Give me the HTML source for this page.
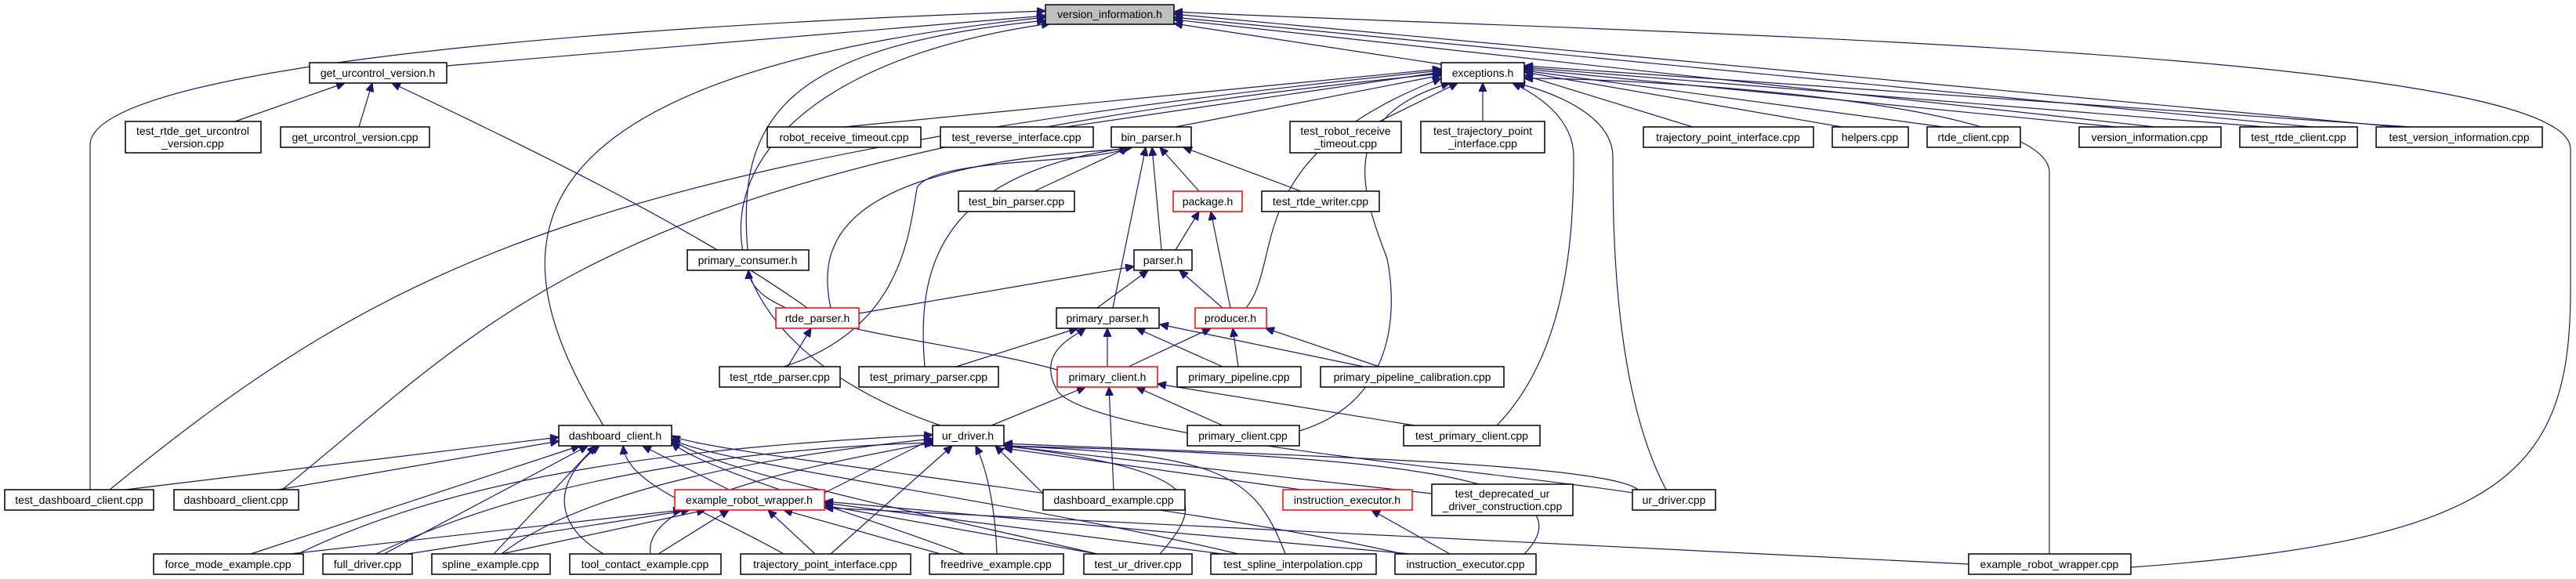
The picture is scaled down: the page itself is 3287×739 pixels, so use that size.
<!DOCTYPE html>
<html><head><meta charset="utf-8"><style>
html,body{margin:0;padding:0;background:#fff;}
svg{display:block;}
.n rect{fill:#fff;stroke:#000;stroke-width:1.5;}
.r rect{stroke:#f00;}
.g rect{fill:#bfbfbf;}
text{font-family:"Liberation Sans","DejaVu Sans",sans-serif;font-size:14px;fill:#000;text-anchor:middle;}
path{fill:none;stroke:#191970;stroke-width:1.2;}
</style></head><body>
<svg width="3287" height="739" viewBox="0 0 3287 739" xmlns="http://www.w3.org/2000/svg">
<defs><marker id="a" markerWidth="12" markerHeight="10" refX="11" refY="5" orient="auto" markerUnits="userSpaceOnUse"><path d="M0,0 L11,5 L0,10 z" style="fill:#191970;stroke:#191970"/></marker></defs>
<g marker-end="url(#a)">
<path d="M570,84 L1334,20"/>
<path d="M115,625 L115,185 C115,100 600,40 1334,14"/>
<path d="M770,543 C640,330 600,100 1334,22"/>
<path d="M954,319 C940,150 1000,60 1334,26"/>
<path d="M1200,543 C840,420 840,100 1340,30"/>
<path d="M1839,82 L1498,30"/>
<path d="M2750,162 L1498,25"/>
<path d="M2950,162 L1498,22"/>
<path d="M3060,162 L1498,18"/>
<path d="M2719,724 C3200,690 3280,600 3280,370 L3280,190 C3280,60 2000,40 1498,15"/>
<path d="M1077,162 L1839,88"/>
<path d="M1360,162 L1839,92"/>
<path d="M1500,162 L1839,96"/>
<path d="M1760,155 L1860,106"/>
<path d="M1892,155 L1892,106"/>
<path d="M2160,162 L1945,96"/>
<path d="M2350,162 L1945,92"/>
<path d="M2480,162 L1945,90"/>
<path d="M2700,162 L1945,88"/>
<path d="M2890,162 L1945,86"/>
<path d="M3075,162 L1945,84"/>
<path d="M2615,707 L2615,220 C2615,130 2100,100 1945,100"/>
<path d="M140,625 C500,330 770,200 1839,90"/>
<path d="M360,625 C640,400 770,200 1839,94"/>
<path d="M1590,393 C1640,330 1580,200 1839,100"/>
<path d="M1658,550 C1790,510 1780,380 1770,330 C1740,250 1700,150 1850,106"/>
<path d="M1910,543 C2000,450 2008,300 2008,200 C2008,150 1960,120 1930,106"/>
<path d="M2126,625 C2060,500 2058,300 2058,200 C2058,150 1990,120 1935,106"/>
<path d="M300,155 L440,106"/>
<path d="M458,162 L475,106"/>
<path d="M1030,393 C900,300 700,200 500,106"/>
<path d="M1320,244 L1440,188"/>
<path d="M1530,244 L1480,188"/>
<path d="M1660,244 L1510,188"/>
<path d="M1482,319 L1470,188"/>
<path d="M1420,393 L1462,188"/>
<path d="M1060,393 C1040,300 1080,210 1440,190"/>
<path d="M1000,468 C1150,420 1160,300 1170,240 C1190,200 1400,210 1440,188"/>
<path d="M1180,468 C1170,350 1190,220 1445,188"/>
<path d="M1500,319 L1530,270"/>
<path d="M1570,393 L1545,270"/>
<path d="M1096,400 L1447,340"/>
<path d="M1400,393 L1465,345"/>
<path d="M1560,393 L1505,345"/>
<path d="M1349,472 C1200,430 960,420 955,345"/>
<path d="M1005,468 L1035,419"/>
<path d="M1220,468 L1375,419"/>
<path d="M1413,468 L1413,419"/>
<path d="M1560,468 L1450,419"/>
<path d="M1740,468 L1480,414"/>
<path d="M2090,630 C1900,600 1400,560 1350,500 C1320,450 1370,430 1385,419"/>
<path d="M1440,468 L1545,419"/>
<path d="M1580,468 L1573,419"/>
<path d="M1760,468 L1615,419"/>
<path d="M1265,543 L1385,494"/>
<path d="M1421,625 L1415,494"/>
<path d="M1560,543 L1450,494"/>
<path d="M1805,543 L1477,490"/>
<path d="M1050,630 L1190,560"/>
<path d="M1331,630 L1270,569"/>
<path d="M1660,625 L1281,572"/>
<path d="M1827,630 L1281,569"/>
<path d="M2090,625 C2050,590 1600,580 1281,566"/>
<path d="M380,707 C600,600 900,570 1190,555"/>
<path d="M480,707 C700,600 1000,570 1195,565"/>
<path d="M640,707 C750,620 1000,580 1190,560"/>
<path d="M830,707 C820,640 1000,600 1190,565"/>
<path d="M1060,707 L1215,569"/>
<path d="M1272,707 C1270,650 1260,600 1245,569"/>
<path d="M1480,707 C1540,640 1540,600 1281,569"/>
<path d="M1640,707 C1600,600 1550,580 1281,569"/>
<path d="M1945,707 C2050,600 1700,580 1281,569"/>
<path d="M160,625 L713,558"/>
<path d="M355,625 L713,563"/>
<path d="M930,625 L820,569"/>
<path d="M320,707 L740,569"/>
<path d="M490,707 L750,569"/>
<path d="M630,707 L760,569"/>
<path d="M770,707 C690,660 720,600 765,569"/>
<path d="M1000,707 C900,650 800,620 795,569"/>
<path d="M1230,707 C1050,640 900,600 857,565"/>
<path d="M1400,707 C1200,660 900,600 857,560"/>
<path d="M1580,707 C1300,640 900,590 857,560"/>
<path d="M1790,707 C1500,640 900,580 857,556"/>
<path d="M370,707 L870,651"/>
<path d="M520,707 L880,651"/>
<path d="M640,707 L900,651"/>
<path d="M840,707 L930,651"/>
<path d="M1040,707 L980,651"/>
<path d="M1200,707 L1000,651"/>
<path d="M1400,707 L1052,645"/>
<path d="M1560,707 L1052,642"/>
<path d="M1800,707 L1052,640"/>
<path d="M2512,720 L1052,648"/>
<path d="M1850,707 L1750,651"/>
</g>
<g class="n g"><rect x="1334" y="6" width="164" height="25"/><text x="1416" y="23">version_information.h</text></g>
<g class="n"><rect x="395" y="80" width="175" height="26"/><text x="482" y="98">get_urcontrol_version.h</text></g>
<g class="n"><rect x="1839" y="80" width="106" height="26"/><text x="1892" y="98">exceptions.h</text></g>
<g class="n"><rect x="160" y="155" width="173" height="40"/><text x="246" y="172">test_rtde_get_urcontrol</text><text x="246" y="188">_version.cpp</text></g>
<g class="n"><rect x="358" y="162" width="190" height="26"/><text x="453" y="180">get_urcontrol_version.cpp</text></g>
<g class="n"><rect x="979" y="162" width="196" height="26"/><text x="1077" y="180">robot_receive_timeout.cpp</text></g>
<g class="n"><rect x="1200" y="162" width="195" height="26"/><text x="1297" y="180">test_reverse_interface.cpp</text></g>
<g class="n"><rect x="1418" y="162" width="102" height="26"/><text x="1469" y="180">bin_parser.h</text></g>
<g class="n"><rect x="1646" y="155" width="142" height="40"/><text x="1717" y="172">test_robot_receive</text><text x="1717" y="188">_timeout.cpp</text></g>
<g class="n"><rect x="1813" y="155" width="158" height="40"/><text x="1892" y="172">test_trajectory_point</text><text x="1892" y="188">_interface.cpp</text></g>
<g class="n"><rect x="2097" y="162" width="217" height="26"/><text x="2205" y="180">trajectory_point_interface.cpp</text></g>
<g class="n"><rect x="2338" y="162" width="97" height="26"/><text x="2386" y="180">helpers.cpp</text></g>
<g class="n"><rect x="2459" y="162" width="119" height="26"/><text x="2518" y="180">rtde_client.cpp</text></g>
<g class="n"><rect x="2653" y="162" width="181" height="26"/><text x="2743" y="180">version_information.cpp</text></g>
<g class="n"><rect x="2858" y="162" width="150" height="26"/><text x="2933" y="180">test_rtde_client.cpp</text></g>
<g class="n"><rect x="3032" y="162" width="212" height="26"/><text x="3138" y="180">test_version_information.cpp</text></g>
<g class="n"><rect x="1223" y="244" width="148" height="26"/><text x="1297" y="262">test_bin_parser.cpp</text></g>
<g class="n r"><rect x="1497" y="244" width="88" height="26"/><text x="1541" y="262">package.h</text></g>
<g class="n"><rect x="1610" y="244" width="150" height="26"/><text x="1685" y="262">test_rtde_writer.cpp</text></g>
<g class="n"><rect x="877" y="319" width="155" height="26"/><text x="954" y="337">primary_consumer.h</text></g>
<g class="n"><rect x="1447" y="319" width="74" height="26"/><text x="1484" y="337">parser.h</text></g>
<g class="n r"><rect x="990" y="393" width="106" height="26"/><text x="1043" y="411">rtde_parser.h</text></g>
<g class="n"><rect x="1348" y="393" width="131" height="26"/><text x="1413" y="411">primary_parser.h</text></g>
<g class="n r"><rect x="1525" y="393" width="91" height="26"/><text x="1570" y="411">producer.h</text></g>
<g class="n"><rect x="918" y="468" width="154" height="26"/><text x="995" y="486">test_rtde_parser.cpp</text></g>
<g class="n"><rect x="1096" y="468" width="178" height="26"/><text x="1185" y="486">test_primary_parser.cpp</text></g>
<g class="n r"><rect x="1349" y="468" width="128" height="26"/><text x="1413" y="486">primary_client.h</text></g>
<g class="n"><rect x="1502" y="468" width="158" height="26"/><text x="1581" y="486">primary_pipeline.cpp</text></g>
<g class="n"><rect x="1685" y="468" width="234" height="26"/><text x="1802" y="486">primary_pipeline_calibration.cpp</text></g>
<g class="n"><rect x="713" y="543" width="144" height="26"/><text x="785" y="561">dashboard_client.h</text></g>
<g class="n"><rect x="1190" y="543" width="91" height="26"/><text x="1235" y="561">ur_driver.h</text></g>
<g class="n"><rect x="1515" y="543" width="143" height="26"/><text x="1586" y="561">primary_client.cpp</text></g>
<g class="n"><rect x="1791" y="543" width="174" height="26"/><text x="1878" y="561">test_primary_client.cpp</text></g>
<g class="n"><rect x="6" y="625" width="190" height="26"/><text x="101" y="643">test_dashboard_client.cpp</text></g>
<g class="n"><rect x="222" y="625" width="159" height="26"/><text x="301" y="643">dashboard_client.cpp</text></g>
<g class="n r"><rect x="861" y="625" width="191" height="26"/><text x="956" y="643">example_robot_wrapper.h</text></g>
<g class="n"><rect x="1331" y="625" width="181" height="26"/><text x="1421" y="643">dashboard_example.cpp</text></g>
<g class="n r"><rect x="1637" y="625" width="165" height="26"/><text x="1719" y="643">instruction_executor.h</text></g>
<g class="n"><rect x="1827" y="618" width="180" height="40"/><text x="1917" y="635">test_deprecated_ur</text><text x="1917" y="651">_driver_construction.cpp</text></g>
<g class="n"><rect x="2083" y="625" width="106" height="26"/><text x="2136" y="643">ur_driver.cpp</text></g>
<g class="n"><rect x="196" y="707" width="191" height="26"/><text x="291" y="725">force_mode_example.cpp</text></g>
<g class="n"><rect x="412" y="707" width="114" height="26"/><text x="469" y="725">full_driver.cpp</text></g>
<g class="n"><rect x="551" y="707" width="151" height="26"/><text x="626" y="725">spline_example.cpp</text></g>
<g class="n"><rect x="727" y="707" width="193" height="26"/><text x="823" y="725">tool_contact_example.cpp</text></g>
<g class="n"><rect x="945" y="707" width="217" height="26"/><text x="1053" y="725">trajectory_point_interface.cpp</text></g>
<g class="n"><rect x="1186" y="707" width="171" height="26"/><text x="1271" y="725">freedrive_example.cpp</text></g>
<g class="n"><rect x="1383" y="707" width="138" height="26"/><text x="1452" y="725">test_ur_driver.cpp</text></g>
<g class="n"><rect x="1545" y="707" width="211" height="26"/><text x="1650" y="725">test_spline_interpolation.cpp</text></g>
<g class="n"><rect x="1780" y="707" width="180" height="26"/><text x="1870" y="725">instruction_executor.cpp</text></g>
<g class="n"><rect x="2512" y="707" width="207" height="26"/><text x="2615" y="725">example_robot_wrapper.cpp</text></g>
</svg>
</body></html>
